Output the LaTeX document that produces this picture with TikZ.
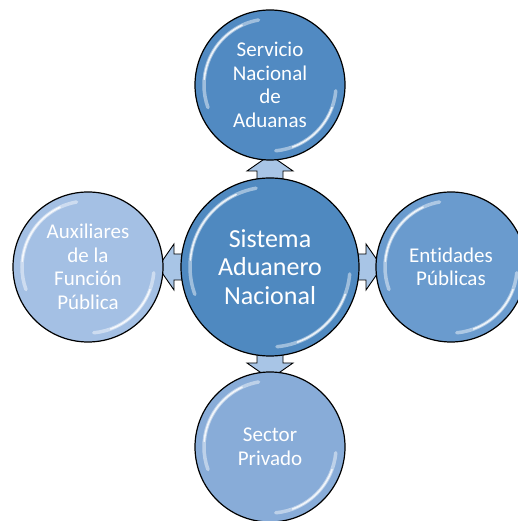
\documentclass[tikz,border=0pt]{standalone}
\usepackage{fontspec}
\setmainfont{Carlito}[Ligatures={NoCommon,NoContextual}]
\definecolor{ccenter}{RGB}{79,137,192}
\definecolor{ctop}{RGB}{81,138,194}
\definecolor{cright}{RGB}{106,155,206}
\definecolor{cbottom}{RGB}{136,172,216}
\definecolor{cleft}{RGB}{164,192,228}
\definecolor{connfill}{RGB}{168,197,230}
\newcommand{\glossarcs}[1]{%
  \draw[white, opacity=0.45, line width=3.5pt, line cap=round] (path picture bounding box.center) ++(100:#1-9) arc (100:200:#1-9);
  \draw[white, opacity=0.8, line width=1.6pt, line cap=round] (path picture bounding box.center) ++(115:#1-9) arc (115:175:#1-9);
  \draw[white, opacity=0.45, line width=3.5pt, line cap=round] (path picture bounding box.center) ++(275:#1-9) arc (275:355:#1-9);
  \draw[white, opacity=0.8, line width=1.6pt, line cap=round] (path picture bounding box.center) ++(290:#1-9) arc (290:340:#1-9);
}
\begin{document}
\begin{tikzpicture}[x=1pt,y=1pt,
  bub/.style={circle, draw=black, line width=1.2pt, inner sep=0pt,
    minimum size=150pt, text=white, align=center,
    font=\fontsize{21}{23.5}\selectfont,
    path picture={\glossarcs{75}}},
  bigbub/.style={circle, draw=black, line width=1.2pt, inner sep=0pt,
    minimum size=178pt, text=white, align=center,
    font=\fontsize{26}{28.5}\selectfont,
    path picture={\glossarcs{89}}},
  conn/.style={fill=connfill, draw=black, line width=0.9pt, line join=miter}]
\useasboundingbox (0,0) rectangle (518,521);
\coordinate (cc) at (270,254);
% connectors (drawn under the circles)
\foreach \a in {90,180,0,270}{
  \begin{scope}[shift={(cc)},rotate=\a]
    \draw[conn] (82,-13) -- (96,-13) -- (96,-23) -- (112,0) -- (96,23) -- (96,13) -- (82,13) -- cycle;
  \end{scope}
}
% circles
\node[bub, fill=ctop]    (srv) at (270,436) {Servicio\\Nacional\\de\\Aduanas};
\node[bub, fill=cleft]   (aux) at (88,254)  {Auxiliares\\de la\\Función\\Pública};
\node[bub, fill=cright]  (ent) at (451,254) {Entidades\\Públicas};
\node[bub, fill=cbottom] (sec) at (270,74)  {Sector\\Privado};
\node[bigbub, fill=ccenter] (sis) at (cc) {Sistema\\Aduanero\\Nacional};
\end{tikzpicture}
\end{document}
